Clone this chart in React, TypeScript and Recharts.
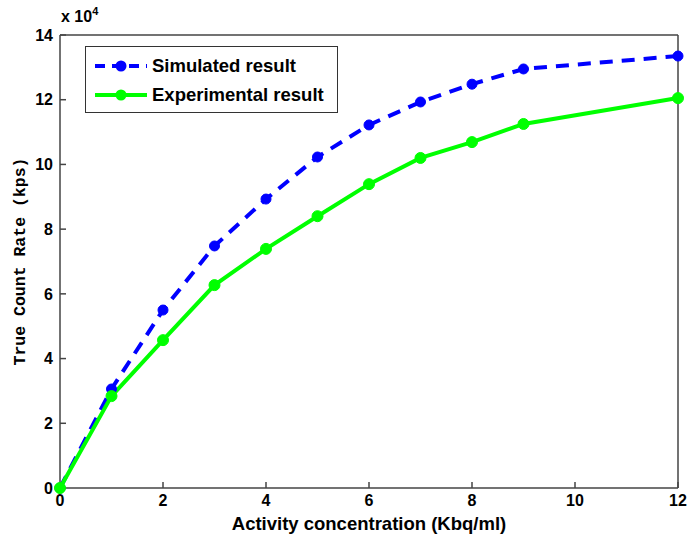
import React from 'react';
import { LineChart, Line, XAxis, YAxis } from 'recharts';

const activity = [0, 1, 2, 3, 4, 5, 6, 7, 8, 9, 12];
const simulated = [0, 3.06, 5.5, 7.48, 8.93, 10.23, 11.22, 11.93, 12.48, 12.95, 13.35];
const experimental = [0, 2.84, 4.57, 6.27, 7.39, 8.4, 9.39, 10.2, 10.69, 11.25, 12.05];
const xTicks = [0, 2, 4, 6, 8, 10, 12];
const yTicks = [0, 2, 4, 6, 8, 10, 12, 14];

const data = activity.map((a, i) => ({ a, sim: simulated[i], exp: experimental[i] }));

const FONT = '"Liberation Sans", Arial, sans-serif';
const tickStyle = { fontFamily: FONT, fontWeight: 700, fontSize: 16, fill: '#000' };
const axisColor = '#444';

const LegendBox = () => (
  <div
    style={{
      position: 'absolute',
      left: 85,
      top: 46,
      border: '1.5px solid #333',
      background: '#fff',
      width: 253,
      height: 67,
      boxSizing: 'border-box',
      fontFamily: FONT,
      fontWeight: 700,
      fontSize: 18.5,
      color: '#000',
      padding: '4px 0 0 9px',
    }}
  >
    <div style={{ display: 'flex', alignItems: 'center', height: 29 }}>
      <svg width={52} height={14}>
        <line x1={0} y1={7} x2={52} y2={7} stroke="#0000ff" strokeWidth={4} strokeDasharray="10 7" />
        <circle cx={26} cy={7} r={5.5} fill="#0000ff" />
      </svg>
      <span style={{ marginLeft: 5 }}>Simulated result</span>
    </div>
    <div style={{ display: 'flex', alignItems: 'center', height: 29 }}>
      <svg width={52} height={14}>
        <line x1={0} y1={7} x2={52} y2={7} stroke="#00ff00" strokeWidth={4} />
        <circle cx={26} cy={7} r={5.5} fill="#00ff00" />
      </svg>
      <span style={{ marginLeft: 5 }}>Experimental result</span>
    </div>
  </div>
);

export default function App() {
  return (
    <div style={{ position: 'absolute', left: 0, top: 0, width: 699, height: 537, background: '#fff' }}>
      <LineChart width={699} height={537} data={data} margin={{ top: 34, right: 20, bottom: 0, left: 0 }}>
        <XAxis
          xAxisId="b"
          dataKey="a"
          type="number"
          domain={[0, 12]}
          ticks={xTicks}
          height={49}
          tickSize={-6}
          tickMargin={13}
          tick={tickStyle}
          stroke={axisColor}
          strokeWidth={1.5}
          label={{ value: 'Activity concentration (Kbq/ml)', position: 'insideBottom', offset: 7, style: { fontFamily: FONT, fontWeight: 700, fontSize: 18.5, fill: '#000' } }}
        />
        <XAxis
          xAxisId="t"
          dataKey="a"
          type="number"
          orientation="top"
          domain={[0, 12]}
          ticks={xTicks}
          height={1}
          tickSize={-6}
          tick={false}
          stroke={axisColor}
          strokeWidth={1.5}
        />
        <YAxis
          yAxisId="l"
          type="number"
          domain={[0, 14]}
          ticks={yTicks}
          width={60}
          tickSize={-6}
          tickMargin={13}
          tick={tickStyle}
          stroke={axisColor}
          strokeWidth={1.5}
          label={{ value: 'True Count Rate (kps)', angle: -90, position: 'insideLeft', offset: 19, style: { fontFamily: '"Liberation Mono", "Courier New", monospace', fontWeight: 700, fontSize: 16.5, fill: '#000', textAnchor: 'middle' } }}
        />
        <YAxis
          yAxisId="r"
          orientation="right"
          type="number"
          domain={[0, 14]}
          ticks={yTicks}
          width={1}
          tickSize={-6}
          tick={false}
          stroke={axisColor}
          strokeWidth={1.5}
        />
        <Line
          xAxisId="b"
          yAxisId="l"
          dataKey="sim"
          stroke="#0000ff"
          strokeWidth={4}
          strokeDasharray="13 9"
          dot={{ r: 5, fill: '#0000ff', stroke: '#0000ff', strokeWidth: 1, strokeDasharray: '' }}
          isAnimationActive={false}
        />
        <Line
          xAxisId="b"
          yAxisId="l"
          dataKey="exp"
          stroke="#00ff00"
          strokeWidth={4}
          dot={{ r: 5.5, fill: '#00ff00', stroke: '#00ff00', strokeWidth: 1 }}
          isAnimationActive={false}
        />
      </LineChart>
      <LegendBox />
      <div style={{ position: 'absolute', left: 61, top: 8, fontFamily: FONT, fontWeight: 700, fontSize: 16, color: '#000' }}>
        x 10<sup style={{ fontSize: 11, verticalAlign: 7, lineHeight: 0 }}>4</sup>
      </div>
    </div>
  );
}
